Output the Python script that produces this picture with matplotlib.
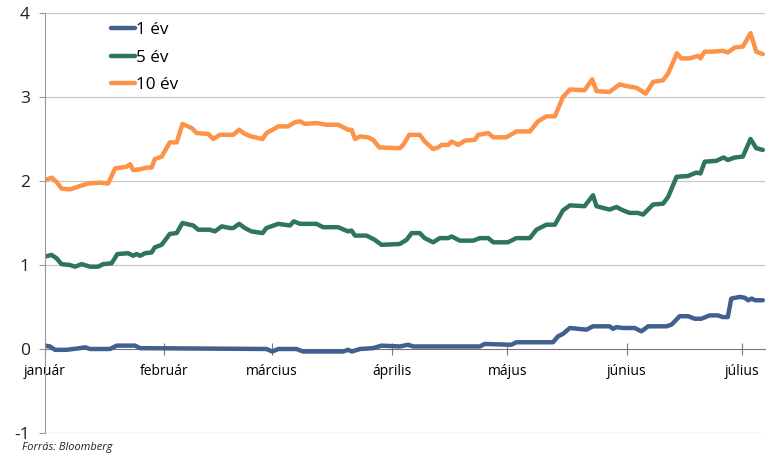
import numpy as np
import pandas as pd
import matplotlib
matplotlib.use("Agg")
import matplotlib.pyplot as plt

# ---- data (days since 2021-01-01, yield %) ----
days_10 = [0, 1.7, 3.0, 4.3, 6.5, 9.1, 11.2, 14.3, 16.4, 18.2, 21.2, 22.1, 22.9, 24.7, 26.4, 27.7,
           28.5, 30.3, 32.4, 34.2, 35.7, 38.1, 39.4, 42.4, 43.7, 45.4, 47.2, 48.9, 50.4, 51.9, 53.6,
           56.5, 57.5, 60.6, 63.1, 64.9, 66.2, 67.5, 70.5, 73.1, 76.1, 78.7, 79.6, 80.5, 81.8, 83.9,
           85.2, 86.8, 92.1, 93.0, 94.6, 97.3, 98.6, 100.8, 102.1, 103.0, 104.7, 105.6, 107.3, 109.0,
           111.6, 112.5, 115.1, 116.4, 119.8, 122.4, 125.9, 128.0, 130.2, 132.4, 134.5, 136.3, 140.1,
           142.1, 143.2, 146.6, 149.2, 151.0, 153.6, 156.0, 157.9, 160.5, 161.8, 164.1, 165.2, 167.4,
           169.6, 170.2, 171.3, 173.4, 176.0, 177.3, 179.1, 181.2, 183.2, 184.7, 186.4]
y_10 = [2.01, 2.04, 1.99, 1.91, 1.90, 1.94, 1.97, 1.98, 1.97, 2.15, 2.17, 2.20, 2.13, 2.14, 2.16, 2.16,
        2.26, 2.29, 2.46, 2.46, 2.68, 2.63, 2.57, 2.56, 2.50, 2.55, 2.55, 2.55, 2.61, 2.56, 2.53,
        2.50, 2.57, 2.65, 2.65, 2.70, 2.71, 2.68, 2.69, 2.67, 2.67, 2.61, 2.61, 2.50, 2.53, 2.52,
        2.49, 2.40, 2.39, 2.43, 2.55, 2.55, 2.47, 2.38, 2.40, 2.43, 2.43, 2.47, 2.43, 2.48,
        2.49, 2.55, 2.57, 2.52, 2.52, 2.59, 2.59, 2.71, 2.77, 2.77, 3.00, 3.09, 3.08,
        3.21, 3.07, 3.06, 3.15, 3.13, 3.11, 3.04, 3.18, 3.20, 3.28, 3.52, 3.46, 3.46,
        3.49, 3.46, 3.54, 3.54, 3.55, 3.53, 3.59, 3.60, 3.76, 3.54, 3.51]

days_5 = [0, 1.7, 3.0, 4.3, 6.5, 7.8, 9.5, 11.7, 13.8, 15.1, 17.3, 18.8, 21.6, 22.9, 23.8, 24.7, 26.0,
          27.7, 28.5, 30.3, 32.4, 34.2, 35.7, 38.5, 39.8, 42.8, 44.1, 45.9, 48.0, 48.9, 50.4, 51.9,
          53.6, 56.5, 57.5, 60.6, 63.6, 64.6, 66.2, 70.5, 72.2, 76.1, 78.7, 79.6, 80.5, 83.5, 85.6,
          87.4, 92.1, 93.9, 95.2, 97.3, 98.6, 100.8, 102.5, 104.7, 105.6, 107.7, 111.2, 112.9, 115.1,
          116.4, 120.2, 122.4, 125.9, 127.6, 130.2, 132.4, 134.5, 136.3, 140.1, 142.3, 143.2, 146.6,
          148.4, 150.1, 151.8, 154.0, 155.3, 157.9, 160.5, 161.8, 164.0, 167.0, 169.1, 170.2, 171.3,
          174.3, 176.2, 177.3, 179.1, 181.2, 183.2, 184.7, 186.4]
y_5 = [1.10, 1.12, 1.08, 1.01, 1.00, 0.98, 1.01, 0.98, 0.98, 1.01, 1.02, 1.13, 1.14, 1.11, 1.13, 1.11, 1.14,
       1.15, 1.21, 1.24, 1.37, 1.38, 1.50, 1.47, 1.42, 1.42, 1.40, 1.46, 1.44, 1.44, 1.49, 1.44,
       1.40, 1.38, 1.44, 1.49, 1.47, 1.52, 1.49, 1.49, 1.45, 1.45, 1.40, 1.41, 1.35, 1.35, 1.30,
       1.24, 1.25, 1.30, 1.38, 1.38, 1.32, 1.27, 1.32, 1.32, 1.34, 1.29, 1.29, 1.32, 1.32,
       1.27, 1.27, 1.32, 1.32, 1.42, 1.48, 1.48, 1.65, 1.71, 1.70, 1.83, 1.70, 1.66,
       1.69, 1.65, 1.62, 1.62, 1.60, 1.72, 1.73, 1.81, 2.05, 2.06, 2.10, 2.09, 2.23,
       2.24, 2.28, 2.25, 2.28, 2.29, 2.50, 2.39, 2.37]

days_1 = [0, 1.3, 2.6, 5.6, 9.1, 10.4, 11.7, 16.9, 18.6, 23.4, 24.7, 57.5, 59.0, 60.6, 65.3, 67.0,
          77.4, 78.7, 79.7, 81.8, 85.2, 87.4, 92.1, 94.3, 95.6, 112.9, 114.2, 121.1, 122.4, 131.9,
          133.2, 134.5, 136.3, 140.6, 142.3, 146.6, 147.5, 148.4, 150.1, 153.1, 154.9, 156.6, 161.4,
          162.7, 164.8, 167.0, 168.7, 170.4, 172.6, 174.7, 176.0, 177.3, 178.2, 180.4, 181.7, 182.6,
          183.5, 184.4, 186.4]
y_1 = [0.04, 0.03, -0.01, -0.01, 0.01, 0.02, 0.00, 0.00, 0.04, 0.04, 0.01, 0.00, -0.03, 0.00, 0.00, -0.03,
       -0.03, -0.01, -0.03, 0.00, 0.01, 0.04, 0.03, 0.05, 0.03, 0.03, 0.06, 0.05, 0.08, 0.08,
       0.15, 0.18, 0.25, 0.23, 0.27, 0.27, 0.24, 0.26, 0.25, 0.25, 0.21, 0.27, 0.27,
       0.29, 0.39, 0.39, 0.36, 0.36, 0.40, 0.40, 0.38, 0.38, 0.60, 0.62, 0.61, 0.58,
       0.60, 0.58, 0.58]

month_starts = ["2021-01-01", "2021-02-01", "2021-03-01", "2021-04-01", "2021-05-01", "2021-06-01", "2021-07-01"]
month_labels = ["január", "február", "március", "április", "május", "június", "július"]
series_names = ["1 év", "5 év", "10 év"]
y_ticks = [-1, 0, 1, 2, 3, 4]

# ---- plot ----
plt.rcParams['font.family'] = ['Open Sans', 'DejaVu Sans']
start = pd.Timestamp("2021-01-01")
def to_dates(d):
    return start + pd.to_timedelta(np.array(d), unit="D")

fig = plt.figure(figsize=(7.69, 4.55), dpi=100)
ax = fig.add_axes([0.0585, 0.0484, 0.9365, 0.923])

colors = ["#40608f", "#2f7462", "#fd9249"]
for d, y, c, n in zip([days_1, days_5, days_10], [y_1, y_5, y_10], colors, series_names):
    ax.plot(to_dates(d), y, color=c, lw=3.2, label=n, solid_joinstyle="round", solid_capstyle="round")

ax.set_ylim(-1, 4)
ax.set_xlim(start, start + pd.Timedelta(days=187))
ax.set_yticks(y_ticks)
ax.set_yticklabels([str(v) for v in y_ticks], fontsize=12.5, color="#222222")
for v in y_ticks:
    if v != 0:
        ax.axhline(v, color="#a8a8a8", lw=0.9, ls=(0, (1, 0.6)), zorder=0)

xt = pd.to_datetime(month_starts)
ax.set_xticks(xt)
ax.set_xticklabels(month_labels, fontsize=14, color="#222222")

for s in ["top", "right"]:
    ax.spines[s].set_visible(False)
ax.spines["bottom"].set_position(("data", 0))
ax.spines["bottom"].set_color("#777777")
ax.spines["left"].set_color("#999999")
ax.spines["bottom"].set_zorder(1)
ax.tick_params(axis="x", direction="inout", length=9, width=0.8, color="#777777", pad=6)
ax.tick_params(axis="y", direction="out", length=4, width=0.8, color="#999999", pad=7)

leg = ax.legend(loc="upper left", bbox_to_anchor=(0.082, 0.995), frameon=False, fontsize=12.3,
                handlelength=1.4, handletextpad=0.1, labelspacing=0.68, borderaxespad=0)

fig.text(0.029, 0.005, "Forrás: Bloomberg", fontsize=7.9, style="italic", color="#222222", va="bottom")

fig.savefig("out.png", dpi=100)
